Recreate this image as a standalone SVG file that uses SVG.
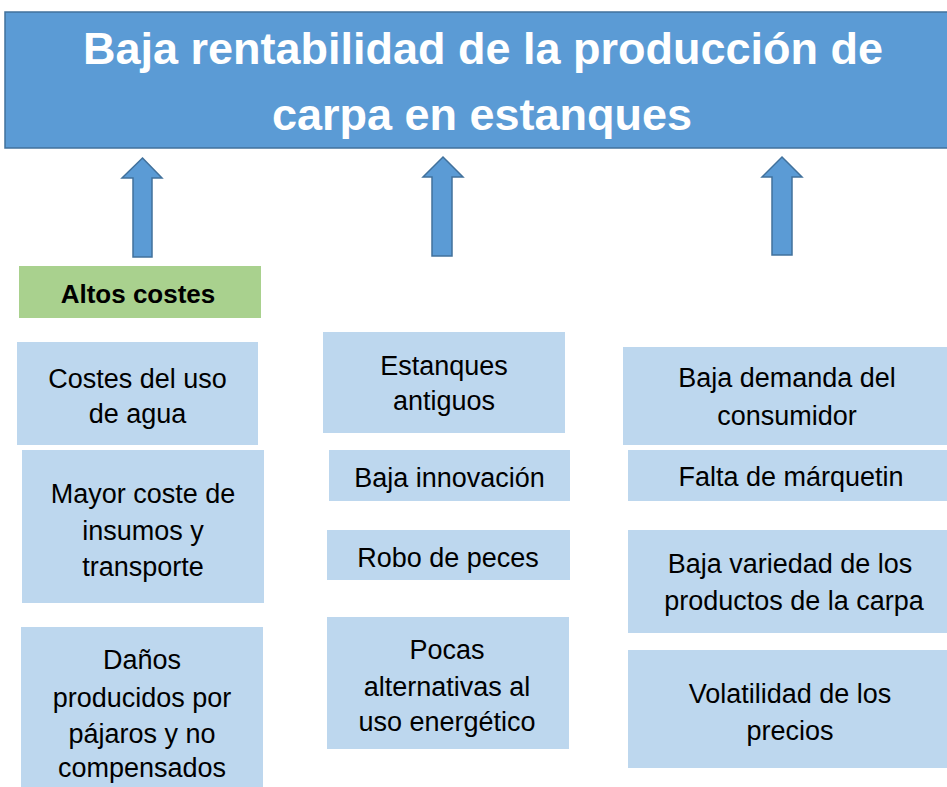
<svg xmlns="http://www.w3.org/2000/svg" width="947" height="787" viewBox="0 0 947 787">
<style>
.box{fill:#BDD7EE;}
.t{font-family:"Liberation Sans",Arial,sans-serif;font-size:27px;fill:#000;text-anchor:middle;}
.title{font-family:"Liberation Sans",Arial,sans-serif;font-size:45px;font-weight:bold;fill:#fff;text-anchor:middle;}
.arrow{fill:#5B9BD5;stroke:#41719C;stroke-width:1.5;}
</style>
<rect width="947" height="787" fill="#fff"/>
<g id="title">
<rect x="5" y="12" width="950" height="136" fill="#5B9BD5" stroke="#41719C" stroke-width="1.5"/>
<text class="title" x="483" y="64">Baja rentabilidad de la producción de</text>
<text class="title" x="482" y="130">carpa en estanques</text>
</g>
<g id="connectors">
<polygon class="arrow" points="142.5,158 162,178 152,178 152,257 133,257 133,178 122,178"/>
<polygon class="arrow" points="443,157 463,177 452,177 452,256 432,256 432,177 423,177"/>
<polygon class="arrow" points="782,157 802,177 792,177 792,255 772,255 772,177 762,177"/>
</g>
<g id="altos-costes">
<rect x="19" y="266" width="242" height="52" fill="#A9D18E"/>
<text class="t" x="138" y="303" style="font-weight:bold;font-size:26px">Altos costes</text>
</g>
<g id="costes-agua">
<rect class="box" x="17" y="342" width="241" height="103"/>
<text class="t" x="137.5" y="388">Costes del uso</text>
<text class="t" x="137.5" y="423">de agua</text>
</g>
<g id="mayor-coste">
<rect class="box" x="22" y="450" width="242" height="153"/>
<text class="t" x="143" y="503">Mayor coste de</text>
<text class="t" x="143" y="540">insumos y</text>
<text class="t" x="143" y="576">transporte</text>
</g>
<g id="danos">
<rect class="box" x="21" y="627" width="242" height="165"/>
<text class="t" x="142" y="669">Daños</text>
<text class="t" x="142" y="707">producidos por</text>
<text class="t" x="142" y="743">pájaros y no</text>
<text class="t" x="142" y="777">compensados</text>
</g>
<g id="estanques">
<rect class="box" x="323" y="332" width="242" height="101"/>
<text class="t" x="444" y="375">Estanques</text>
<text class="t" x="444" y="410">antiguos</text>
</g>
<g id="innovacion">
<rect class="box" x="329" y="450" width="241" height="51"/>
<text class="t" x="449.5" y="487">Baja innovación</text>
</g>
<g id="robo">
<rect class="box" x="327" y="530" width="243" height="50"/>
<text class="t" x="448" y="567">Robo de peces</text>
</g>
<g id="pocas">
<rect class="box" x="327" y="617" width="242" height="132"/>
<text class="t" x="447" y="659">Pocas</text>
<text class="t" x="447" y="696">alternativas al</text>
<text class="t" x="447" y="731">uso energético</text>
</g>
<g id="demanda">
<rect class="box" x="623" y="347" width="330" height="98"/>
<text class="t" x="787" y="387">Baja demanda del</text>
<text class="t" x="787" y="425">consumidor</text>
</g>
<g id="marquetin">
<rect class="box" x="628" y="450" width="325" height="51"/>
<text class="t" x="791" y="486">Falta de márquetin</text>
</g>
<g id="variedad">
<rect class="box" x="628" y="530" width="325" height="103"/>
<text class="t" x="790" y="573">Baja variedad de los</text>
<text class="t" x="794" y="610">productos de la carpa</text>
</g>
<g id="volatilidad">
<rect class="box" x="628" y="650" width="325" height="118"/>
<text class="t" x="790" y="703">Volatilidad de los</text>
<text class="t" x="790" y="740">precios</text>
</g>
</svg>
